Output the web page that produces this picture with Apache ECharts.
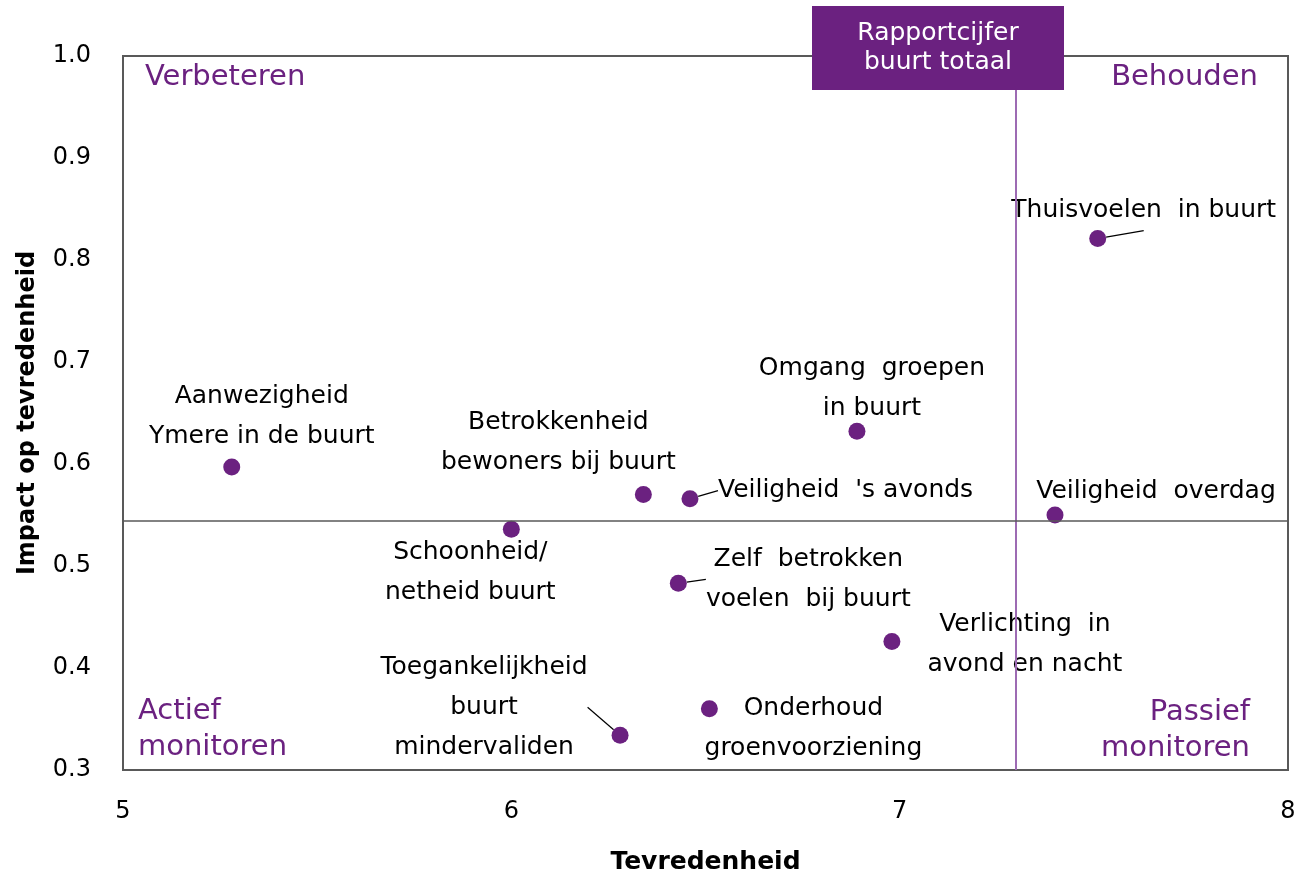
<!DOCTYPE html>
<html>
<head>
<meta charset="utf-8">
<script src="https://cdn.jsdelivr.net/npm/echarts@6/dist/echarts.min.js"></script>
<style>
  html, body { margin: 0; padding: 0; background: #fff; }
  #chart { width: 1294px; height: 873px; }
</style>
</head>
<body>
<div id="chart"></div>
<script>
// onderwerpen en waarden (tevredenheid, impact)
var names = [
  'Aanwezigheid\nYmere in de buurt',
  'Schoonheid/\nnetheid buurt',
  'Betrokkenheid\nbewoners bij buurt',
  "Veiligheid  's avonds",
  'Zelf  betrokken\nvoelen  bij buurt',
  'Toegankelijkheid\nbuurt\nmindervaliden',
  'Onderhoud\ngroenvoorziening',
  'Omgang  groepen\nin buurt',
  'Verlichting  in\navond en nacht',
  'Veiligheid  overdag',
  'Thuisvoelen  in buurt'
]
var tevredenheid = [5.28, 6.00, 6.34, 6.46, 6.43, 6.28, 6.51, 6.89, 6.98, 7.40, 7.51]
var impact = [0.597, 0.536, 0.570, 0.566, 0.483, 0.334, 0.360, 0.632, 0.426, 0.550, 0.821]
// label verschuiving t.o.v. het punt
var labelShift = [[30, -51], [-41, 43], [-85, -52], [28, -8], [130, -4], [-136, -28], [104, 20], [15, -43], [133, 3], [101, -24], [46, -28]]
var leftAligned = [3]
var withLine = [3, 4, 5, 10]

var rapportcijfer = 7.30
var gemImpact = 0.544
var xRange = [5, 8]
var yRange = [0.3, 1.0]

var purple = '#6b2180'
var font = 'DejaVu Sans'

var chart = echarts.init(document.getElementById('chart'))

var points = tevredenheid.map(function (x, i) {
  var left = leftAligned.indexOf(i) >= 0
  return {
    name: names[i],
    value: [x, impact[i]],
    label: {
      align: left ? 'left' : 'center'
    },
    labelLine: { show: withLine.indexOf(i) >= 0 }
  }
})

var option = {
  animation: false,
  grid: {
    left: 123, right: 6, top: 56, bottom: 103,
    outerBoundsMode: 'none', containLabel: false,
    show: true, borderColor: '#595959', borderWidth: 2, backgroundColor: 'transparent'
  },
  xAxis: {
    type: 'value', min: xRange[0], max: xRange[1], interval: 1,
    name: 'Tevredenheid', nameLocation: 'middle', nameGap: 92,
    nameTextStyle: { fontFamily: font, fontWeight: 'bold', fontSize: 25, color: '#000', verticalAlign: 'middle' },
    axisLine: { show: false }, axisTick: { show: false }, splitLine: { show: false },
    axisLabel: { fontFamily: font, fontSize: 24, color: '#000', margin: 30 }
  },
  yAxis: {
    type: 'value', min: yRange[0], max: yRange[1], interval: 0.1,
    name: 'Impact op tevredenheid', nameLocation: 'middle', nameGap: 95,
    nameTextStyle: { fontFamily: font, fontWeight: 'bold', fontSize: 24, color: '#000', verticalAlign: 'middle' },
    axisLine: { show: false }, axisTick: { show: false }, splitLine: { show: false },
    axisLabel: {
      fontFamily: font, fontSize: 24, color: '#000', margin: 32,
      formatter: function (v) { return v.toFixed(1) }
    }
  },
  series: [{
    type: 'scatter',
    symbolSize: 17,
    itemStyle: { color: purple, opacity: 1 },
    data: points,
    label: {
      show: true, position: 'inside', verticalAlign: 'middle',
      fontFamily: font, fontSize: 25, lineHeight: 40, color: '#000',
      formatter: function (p) { return p.name }
    },
    labelLayout: function (p) {
      var s = labelShift[p.dataIndex]
      return { dx: s[0], dy: s[1] }
    },
    labelLine: { lineStyle: { color: '#000', width: 1.2 } },
    markLine: {
      silent: true, symbol: 'none', label: { show: false }, precision: 3,
      data: [
        [{ coord: [rapportcijfer, yRange[0]], lineStyle: { color: '#9d6bb3', width: 2, type: 'solid' } },
         { coord: [rapportcijfer, yRange[1]] }],
        [{ coord: [xRange[0], gemImpact], lineStyle: { color: '#595959', width: 1.5, type: 'solid' } },
         { coord: [xRange[1], gemImpact] }]
      ]
    },
    z: 3
  }],
  graphic: [
    { type: 'rect', left: 812, top: 6, shape: { width: 252, height: 84 }, style: { fill: purple }, z: 10 },
    { type: 'text', x: 938, y: 48, z: 11,
      style: { text: 'Rapportcijfer\nbuurt totaal', fill: '#fff', font: '25px "' + font + '"', align: 'center', verticalAlign: 'middle', lineHeight: 29 } },
    { type: 'text', x: 145, y: 77, style: { text: 'Verbeteren', fill: purple, font: '29px "' + font + '"', verticalAlign: 'middle' } },
    { type: 'text', x: 1258, y: 77, style: { text: 'Behouden', fill: purple, font: '29px "' + font + '"', align: 'right', verticalAlign: 'middle' } },
    { type: 'text', x: 138, y: 729, style: { text: 'Actief\nmonitoren', fill: purple, font: '29px "' + font + '"', lineHeight: 36, verticalAlign: 'middle' } },
    { type: 'text', x: 1250, y: 730, style: { text: 'Passief\nmonitoren', fill: purple, font: '29px "' + font + '"', lineHeight: 36, align: 'right', verticalAlign: 'middle' } }
  ]
}

chart.setOption(option)
</script>
</body>
</html>
